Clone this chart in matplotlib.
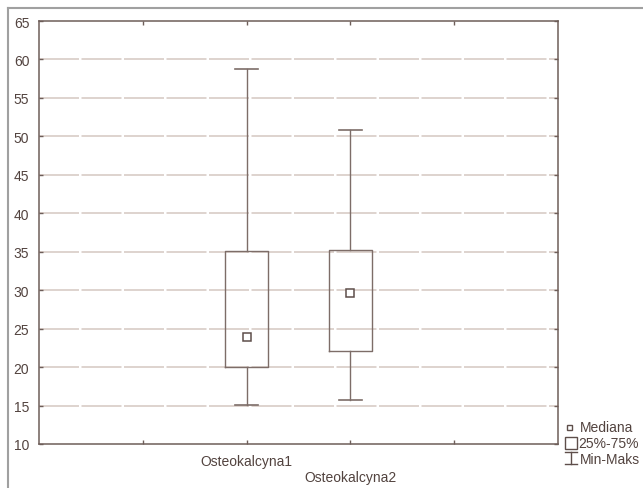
import matplotlib
matplotlib.use("Agg")
import matplotlib.pyplot as plt
from matplotlib.lines import Line2D
from matplotlib.patches import Rectangle

categories = ["Osteokalcyna1", "Osteokalcyna2"]
medians = [23.9, 29.6]
q1 = [20.0, 22.1]
q3 = [35.1, 35.2]
mins = [15.1, 15.7]
maxs = [58.8, 50.8]
yticks = [10, 15, 20, 25, 30, 35, 40, 45, 50, 55, 60, 65]

axcol = "#6e5e59"
boxcol = "#7d6d68"
txtcol = "#52433f"
gridcol = "#d8ccc6"

plt.rcParams["font.family"] = ["Liberation Sans", "DejaVu Sans"]

fig = plt.figure(figsize=(6.43, 4.89), dpi=100)
ax = fig.add_axes([39/643, 1-445/489, (558-39)/643, (445-22)/489])

stats = []
for i, c in enumerate(categories):
    stats.append(dict(label=c, med=medians[i], q1=q1[i], q3=q3[i],
                      whislo=mins[i], whishi=maxs[i], fliers=[]))
pos = [1, 2]
ax.bxp(stats, positions=pos, widths=0.41, showfliers=False, showcaps=True,
       boxprops=dict(color=boxcol, linewidth=1.0),
       whiskerprops=dict(color=boxcol, linewidth=1.0),
       capprops=dict(color=boxcol, linewidth=1.2),
       medianprops=dict(linewidth=0),
       capwidths=0.22, zorder=3)
ax.plot(pos, medians, linestyle="none", marker="s", markersize=5.5,
        markerfacecolor="white", markeredgecolor="#5e4e4a", markeredgewidth=1.1, zorder=4)

ax.set_xlim(-1, 4)
ax.set_ylim(10, 65)
ax.set_yticks(yticks)
ax.set_yticklabels([str(v) for v in yticks], fontsize=10, color=txtcol)
ax.set_xticks([0, 1, 2, 3])
ax.set_xticklabels(["", categories[0], "\n" + categories[1], ""], fontsize=10, color=txtcol,
                   linespacing=1.25)
ax.tick_params(axis="both", direction="in", length=3, color=axcol, width=1,
               top=True, right=True)
ax.tick_params(axis="y", pad=7)
ax.tick_params(axis="x", pad=7)
for g in yticks[1:-1]:
    ax.axhline(g, color=gridcol, linewidth=1.2, dashes=(24, 1.5), zorder=1)
for s in ax.spines.values():
    s.set_color(axcol)
    s.set_linewidth(1.1)

def fx(x):
    return x / 643
def fy(y):
    return 1 - y / 489

fig.add_artist(Rectangle((fx(566.5), fy(431)), 5/643, 5/489, transform=fig.transFigure,
                         facecolor="white", edgecolor="#5e4e4a", linewidth=1.0))
fig.text(fx(580), fy(428.5), "Mediana", fontsize=10, color=txtcol, va="center", ha="left")
fig.add_artist(Rectangle((fx(565), fy(450)), 12/643, 12/489, transform=fig.transFigure,
                         facecolor="white", edgecolor="#5e4e4a", linewidth=1.0))
fig.text(fx(578), fy(444.5), "25%-75%", fontsize=10, color=txtcol, va="center", ha="left")
fig.add_artist(Line2D([fx(571), fx(571)], [fy(453), fy(465)], transform=fig.transFigure,
                      color="#5e4e4a", linewidth=1.0))
fig.add_artist(Line2D([fx(565), fx(577)], [fy(453), fy(453)], transform=fig.transFigure,
                      color="#5e4e4a", linewidth=1.0))
fig.add_artist(Line2D([fx(565), fx(577)], [fy(465), fy(465)], transform=fig.transFigure,
                      color="#5e4e4a", linewidth=1.0))
fig.text(fx(580), fy(459.5), "Min-Maks", fontsize=10, color=txtcol, va="center", ha="left")

fig.add_artist(Line2D([fx(8), fx(8)], [fy(9), 0], transform=fig.transFigure,
                      color="#a0a0a0", linewidth=1.5))
fig.add_artist(Line2D([fx(8), 1], [fy(9), fy(9)], transform=fig.transFigure,
                      color="#a0a0a0", linewidth=1.5))

fig.savefig("out.png", dpi=100)
